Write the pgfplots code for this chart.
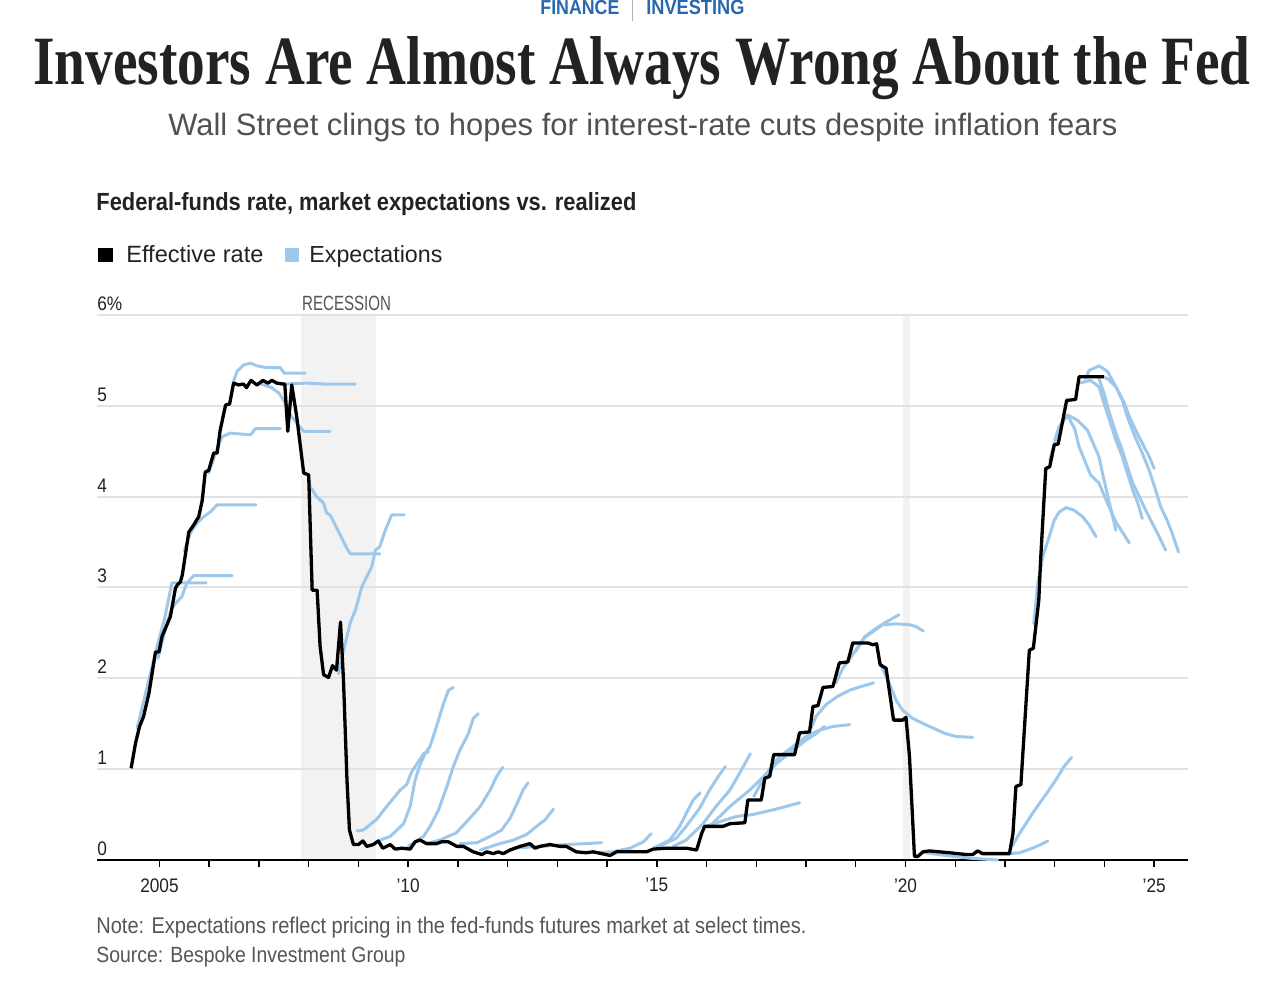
\documentclass[border=0pt]{standalone}
\usepackage{fontspec}
\setmainfont{Liberation Sans}
\newfontfamily\narrow[FakeStretch=0.88]{Liberation Sans}
\newfontfamily\titlefont{Liberation Serif}
\usepackage{graphicx}
\usepackage{pgfplots}
\pgfplotsset{compat=1.18}
\definecolor{expblue}{RGB}{158,200,235}
\definecolor{recgray}{RGB}{242,242,242}
\definecolor{gridgray}{RGB}{226,226,226}
\definecolor{finblue}{RGB}{38,104,176}
\definecolor{txt}{RGB}{34,34,34}
\definecolor{subgray}{RGB}{80,80,80}
\definecolor{notegray}{RGB}{85,85,85}

\pgfplotsset{
  exp/.style={expblue, line width=1.5pt, line join=round, line cap=round},
  eff/.style={black, line width=1.65pt, line join=round},
}

\begin{document}
\begin{tikzpicture}
\begin{axis}[
  set layers,
  at={(48.5pt,65.5pt)}, anchor=south west,
  scale only axis, width=545.5pt, height=272.5pt,
  xmin=2003.744, xmax=2025.68, ymin=0, ymax=6,
  axis x line*=bottom, axis y line*=left,
  y axis line style={draw=none},
  x axis line style={black, line width=1pt, -},
  xtick={2005,2006,...,2025}, xticklabels={},
  xtick align=outside, major tick length=3.5pt,
  xtick style={black, line width=0.7pt},
  ytick=\empty,
  clip=false,
]
% recessions
\addplot[fill=recgray, draw=none, on layer=axis background] coordinates {(2007.843,6) (2009.35,6)} \closedcycle;
\addplot[fill=recgray, draw=none, on layer=axis background] coordinates {(2019.956,6) (2020.097,6)} \closedcycle;
\begin{pgfonlayer}{axis grid}
\draw[gridgray, line width=1pt] (axis cs:2003.744,1) -- (axis cs:2025.68,1);
\draw[gridgray, line width=1pt] (axis cs:2003.744,2) -- (axis cs:2025.68,2);
\draw[gridgray, line width=1pt] (axis cs:2003.744,3) -- (axis cs:2025.68,3);
\draw[gridgray, line width=1pt] (axis cs:2003.744,4) -- (axis cs:2025.68,4);
\draw[gridgray, line width=1pt] (axis cs:2003.744,5) -- (axis cs:2025.68,5);
\draw[gridgray, line width=1pt] (axis cs:2003.744,6) -- (axis cs:2025.68,6);
\end{pgfonlayer}

% expectations
\addplot[exp] coordinates {(2004.55,1.45) (2004.75,1.9) (2004.95,2.35) (2005.1,2.65) (2005.25,3.05) (2005.94,3.05)};
\addplot[exp] coordinates {(2004.97,2.22) (2005.1,2.5) (2005.25,2.78) (2005.35,2.84) (2005.45,2.90) (2005.55,3.05) (2005.69,3.13) (2006.46,3.13)};
\addplot[exp] coordinates {(2005.50,3.40) (2005.62,3.60) (2005.76,3.71) (2005.89,3.78) (2006.02,3.83) (2006.16,3.91) (2006.94,3.91)};
\addplot[exp] coordinates {(2005.99,4.26) (2006.16,4.53) (2006.26,4.66) (2006.43,4.70) (2006.83,4.68) (2006.93,4.75) (2007.43,4.75)};
\addplot[exp] coordinates {(2006.49,5.27) (2006.56,5.38) (2006.69,5.45) (2006.83,5.47) (2006.96,5.44) (2007.16,5.42) (2007.43,5.42) (2007.51,5.36) (2007.93,5.36)};
\addplot[exp] coordinates {(2007.00,5.25) (2007.10,5.23) (2007.26,5.20) (2007.40,5.14) (2007.50,5.06) (2007.63,4.90) (2007.76,4.81) (2007.90,4.72) (2008.43,4.72)};
\addplot[exp] coordinates {(2007.50,5.24) (2007.97,5.25) (2008.30,5.24) (2008.94,5.24)};
\addplot[exp] coordinates {(2008.00,4.22) (2008.03,4.11) (2008.16,4.00) (2008.30,3.93) (2008.36,3.82) (2008.43,3.80) (2008.57,3.65) (2008.67,3.54) (2008.77,3.43) (2008.84,3.37) (2009.43,3.37)};
\addplot[exp] coordinates {(2008.60,2.05) (2008.72,2.35) (2008.84,2.62) (2008.94,2.75) (2009.07,3.01) (2009.17,3.12) (2009.27,3.23) (2009.34,3.41) (2009.43,3.45) (2009.54,3.63) (2009.67,3.80) (2009.92,3.80)};
\addplot[exp] coordinates {(2008.97,0.32) (2009.10,0.33) (2009.37,0.45) (2009.57,0.59) (2009.84,0.77) (2009.97,0.83) (2010.07,0.97) (2010.31,1.17) (2010.41,1.19)};
\addplot[exp] coordinates {(2009.44,0.22) (2009.64,0.26) (2009.91,0.40) (2010.04,0.59) (2010.14,0.88) (2010.24,1.05) (2010.34,1.17) (2010.44,1.25) (2010.57,1.47) (2010.71,1.72) (2010.81,1.87) (2010.91,1.90)};
\addplot[exp] coordinates {(2010.00,0.15) (2010.31,0.26) (2010.44,0.37) (2010.61,0.55) (2010.78,0.81) (2010.91,1.03) (2011.04,1.21) (2011.21,1.39) (2011.31,1.56) (2011.41,1.61)};
\addplot[exp] coordinates {(2010.37,0.18) (2010.64,0.22) (2010.97,0.30) (2011.24,0.46) (2011.45,0.59) (2011.65,0.77) (2011.78,0.92) (2011.90,1.02)};
\addplot[exp] coordinates {(2011.04,0.18) (2011.38,0.19) (2011.65,0.26) (2011.88,0.33) (2012.05,0.46) (2012.18,0.61) (2012.31,0.77) (2012.41,0.85)};
\addplot[exp] coordinates {(2011.45,0.11) (2011.78,0.17) (2012.12,0.22) (2012.38,0.28) (2012.58,0.37) (2012.75,0.44) (2012.92,0.56)};
\addplot[exp] coordinates {(2012.12,0.13) (2012.65,0.15) (2013.18,0.17) (2013.89,0.19)};
\addplot[exp] coordinates {(2013.72,0.08) (2014.10,0.09) (2014.46,0.13) (2014.73,0.20) (2014.89,0.29)};
\addplot[exp] coordinates {(2014.93,0.13) (2015.26,0.22) (2015.46,0.37) (2015.59,0.51) (2015.73,0.66) (2015.87,0.74)};
\addplot[exp] coordinates {(2015.06,0.15) (2015.39,0.24) (2015.59,0.37) (2015.86,0.57) (2016.06,0.77) (2016.26,0.94) (2016.38,1.03)};
\addplot[exp] coordinates {(2015.33,0.15) (2015.59,0.22) (2015.93,0.40) (2016.19,0.59) (2016.47,0.77) (2016.70,0.99) (2016.88,1.17)};
\addplot[exp] coordinates {(2015.99,0.37) (2016.26,0.42) (2016.60,0.48) (2016.93,0.50) (2017.47,0.57) (2017.87,0.63)};
\addplot[exp] coordinates {(2016.06,0.37) (2016.47,0.59) (2016.87,0.77) (2017.20,0.95) (2017.47,1.14) (2017.74,1.25) (2018.00,1.36) (2018.27,1.43) (2018.54,1.47) (2018.88,1.49)};
\addplot[exp] coordinates {(2016.95,0.70) (2017.13,0.88) (2017.40,1.06) (2017.74,1.21) (2018.00,1.32) (2018.20,1.39) (2018.37,1.47)};
\addplot[exp] coordinates {(2018.10,1.45) (2018.20,1.58) (2018.40,1.71) (2018.63,1.80) (2018.88,1.87) (2019.11,1.91) (2019.36,1.95)};
\addplot[exp] coordinates {(2018.60,1.95) (2018.74,2.11) (2018.94,2.26) (2019.18,2.46) (2019.41,2.55) (2019.61,2.62) (2019.87,2.70)};
\addplot[exp] coordinates {(2019.00,2.30) (2019.18,2.45) (2019.54,2.59) (2019.81,2.60) (2020.08,2.59) (2020.21,2.57) (2020.36,2.52)};
\addplot[exp] coordinates {(2019.50,2.15) (2019.68,1.94) (2019.81,1.76) (2019.94,1.65) (2020.14,1.56) (2020.48,1.47) (2020.81,1.39) (2021.02,1.36) (2021.35,1.35)};
\addplot[exp] coordinates {(2020.40,0.08) (2020.80,0.05) (2021.30,0.02) (2021.85,0.00)};
\addplot[exp] coordinates {(2022.09,0.07) (2022.30,0.08) (2022.55,0.13) (2022.72,0.17) (2022.86,0.21)};
\addplot[exp] coordinates {(2022.12,0.13) (2022.29,0.29) (2022.42,0.40) (2022.55,0.51) (2022.69,0.62) (2022.86,0.75) (2023.02,0.88) (2023.19,1.03) (2023.34,1.13)};
\addplot[exp] coordinates {(2022.58,2.60) (2022.66,3.05) (2022.76,3.34) (2022.89,3.56) (2022.99,3.74) (2023.09,3.83) (2023.23,3.88) (2023.39,3.85) (2023.56,3.78) (2023.69,3.69) (2023.83,3.56)};
\addplot[exp] coordinates {(2022.90,4.40) (2023.09,4.77) (2023.26,4.90) (2023.46,4.84) (2023.66,4.73) (2023.89,4.44) (2023.96,4.26) (2024.10,3.93) (2024.23,3.63)};
\addplot[exp] coordinates {(2023.00,4.62) (2023.09,4.77) (2023.26,4.89) (2023.40,4.75) (2023.49,4.55) (2023.72,4.24) (2023.89,4.15) (2024.06,3.93) (2024.23,3.72) (2024.36,3.61) (2024.50,3.49)};
\addplot[exp] coordinates {(2023.49,5.25) (2023.72,5.28) (2023.89,5.21) (2023.99,5.03) (2024.12,4.81) (2024.23,4.62) (2024.36,4.44) (2024.46,4.26) (2024.57,4.07) (2024.67,3.93) (2024.76,3.76)};
\addplot[exp] coordinates {(2023.62,5.30) (2023.69,5.39) (2023.89,5.44) (2024.06,5.38) (2024.16,5.28) (2024.30,5.14) (2024.40,5.03) (2024.50,4.88) (2024.63,4.73) (2024.76,4.59) (2024.90,4.44) (2025.00,4.31)};
\addplot[exp] coordinates {(2023.99,5.32) (2024.08,5.29) (2024.23,5.21) (2024.36,5.06) (2024.46,4.88) (2024.60,4.68) (2024.76,4.48) (2024.90,4.29) (2025.03,4.07) (2025.13,3.89) (2025.26,3.74) (2025.36,3.60) (2025.49,3.39)};
\addplot[exp] coordinates {(2023.89,5.30) (2023.99,5.14) (2024.10,4.92) (2024.23,4.70) (2024.36,4.51) (2024.46,4.33) (2024.57,4.15) (2024.70,4.00) (2024.83,3.85) (2024.96,3.71) (2025.10,3.56) (2025.23,3.41)};

% effective rate
\addplot[eff] coordinates {
(2004.43,1.01) (2004.52,1.29) (2004.60,1.47) (2004.68,1.58) (2004.79,1.84) (2004.92,2.29) (2004.99,2.29)
(2005.05,2.46) (2005.15,2.59) (2005.22,2.68) (2005.32,2.99) (2005.36,3.03) (2005.42,3.06) (2005.46,3.14)
(2005.59,3.61) (2005.69,3.69) (2005.79,3.78) (2005.86,3.96) (2005.92,4.27) (2005.99,4.29) (2006.09,4.48)
(2006.16,4.48) (2006.22,4.73) (2006.33,5.01) (2006.41,5.02) (2006.49,5.25) (2006.59,5.23) (2006.69,5.24)
(2006.75,5.20) (2006.84,5.28) (2006.96,5.23) (2007.08,5.28) (2007.18,5.25) (2007.26,5.28) (2007.36,5.25)
(2007.48,5.24) (2007.52,5.24) (2007.58,4.72) (2007.66,5.23) (2007.76,4.88) (2007.90,4.26) (2008.00,4.24)
(2008.07,2.97) (2008.17,2.97) (2008.23,2.35) (2008.30,2.04) (2008.40,2.01) (2008.48,2.14) (2008.56,2.09)
(2008.64,2.62) (2008.70,1.98) (2008.77,0.88) (2008.82,0.33) (2008.90,0.17) (2009.00,0.17) (2009.09,0.21)
(2009.17,0.15) (2009.30,0.17) (2009.40,0.21) (2009.49,0.13) (2009.64,0.17) (2009.74,0.12) (2009.87,0.13)
(2010.04,0.12) (2010.14,0.20) (2010.24,0.22) (2010.37,0.18) (2010.57,0.18) (2010.67,0.20) (2010.81,0.20)
(2010.98,0.15) (2011.11,0.15) (2011.31,0.09) (2011.48,0.06) (2011.58,0.09) (2011.71,0.07) (2011.81,0.09)
(2011.91,0.07) (2012.05,0.11) (2012.25,0.15) (2012.45,0.18) (2012.55,0.13) (2012.65,0.15) (2012.85,0.17)
(2013.05,0.15) (2013.18,0.15) (2013.38,0.09) (2013.58,0.08) (2013.72,0.09) (2013.89,0.07) (2014.06,0.05)
(2014.19,0.09) (2014.39,0.09) (2014.79,0.09) (2014.93,0.12) (2015.19,0.13) (2015.59,0.13) (2015.80,0.11)
(2015.90,0.29) (2015.96,0.37) (2016.33,0.37) (2016.47,0.40) (2016.77,0.41) (2016.83,0.66) (2017.10,0.66)
(2017.17,0.90) (2017.27,0.92) (2017.35,1.16) (2017.77,1.16) (2017.87,1.40) (2018.07,1.41) (2018.14,1.69)
(2018.24,1.70) (2018.34,1.90) (2018.54,1.91) (2018.67,2.17) (2018.84,2.18) (2018.94,2.39) (2019.24,2.39)
(2019.34,2.37) (2019.42,2.38) (2019.49,2.15) (2019.61,2.11) (2019.76,1.54) (2019.94,1.54) (2020.01,1.57)
(2020.08,1.14) (2020.18,0.04) (2020.25,0.04) (2020.35,0.09) (2020.48,0.10) (2020.88,0.08) (2021.22,0.06)
(2021.35,0.06) (2021.45,0.10) (2021.55,0.07) (2022.09,0.07) (2022.16,0.29) (2022.22,0.81) (2022.32,0.83)
(2022.49,2.31) (2022.57,2.33) (2022.68,2.86) (2022.72,3.34) (2022.82,4.31) (2022.90,4.33) (2022.99,4.57)
(2023.07,4.58) (2023.24,5.06) (2023.42,5.07) (2023.49,5.32) (2023.99,5.32)};

% axis texts
\node[anchor=base west, inner sep=0pt, text=notegray] at (axis cs:2007.86,6) [yshift=2pt] {\resizebox{44.5pt}{7.2pt}{\narrow RECESSION}};
\node[anchor=south west, inner sep=0pt, text=txt, font=\narrow\fontsize{9.8}{11}\selectfont] at (axis cs:2003.744,6) [yshift=2pt] {6\%};
\node[anchor=south west, inner sep=0pt, text=txt, font=\narrow\fontsize{9.8}{11}\selectfont] at (axis cs:2003.744,5) [yshift=2pt] {5};
\node[anchor=south west, inner sep=0pt, text=txt, font=\narrow\fontsize{9.8}{11}\selectfont] at (axis cs:2003.744,4) [yshift=2pt] {4};
\node[anchor=south west, inner sep=0pt, text=txt, font=\narrow\fontsize{9.8}{11}\selectfont] at (axis cs:2003.744,3) [yshift=2pt] {3};
\node[anchor=south west, inner sep=0pt, text=txt, font=\narrow\fontsize{9.8}{11}\selectfont] at (axis cs:2003.744,2) [yshift=2pt] {2};
\node[anchor=south west, inner sep=0pt, text=txt, font=\narrow\fontsize{9.8}{11}\selectfont] at (axis cs:2003.744,1) [yshift=2pt] {1};
\node[anchor=south west, inner sep=0pt, text=txt, font=\narrow\fontsize{9.8}{11}\selectfont] at (axis cs:2003.744,0) [yshift=2pt] {0};
\node[anchor=north, inner sep=0pt, text=txt, font=\narrow\fontsize{9.8}{11}\selectfont] at (axis cs:2005,0) [yshift=-9pt] {2005};
\node[anchor=north, inner sep=0pt, text=txt, font=\narrow\fontsize{9.8}{11}\selectfont] at (axis cs:2010,0) [yshift=-9pt] {’10};
\node[anchor=north, inner sep=0pt, text=txt, font=\narrow\fontsize{9.8}{11}\selectfont] at (axis cs:2015,0) [yshift=-9pt] {’15};
\node[anchor=north, inner sep=0pt, text=txt, font=\narrow\fontsize{9.8}{11}\selectfont] at (axis cs:2020,0) [yshift=-9pt] {’20};
\node[anchor=north, inner sep=0pt, text=txt, font=\narrow\fontsize{9.8}{11}\selectfont] at (axis cs:2025,0) [yshift=-9pt] {’25};
\end{axis}

\begin{scope}[x=0.5pt, y=-0.5pt, yshift=495.5pt]
\node[anchor=base west, inner sep=0pt, text=finblue] at (540,14.5) {\resizebox{39.5pt}{!}{\narrow\bfseries FINANCE}};
\draw[gray!60, line width=0.5pt] (632,0) -- (632,21);
\node[anchor=base west, inner sep=0pt, text=finblue] at (646,14.5) {\resizebox{49pt}{!}{\narrow\bfseries INVESTING}};
\node[anchor=base west, inner sep=0pt, text=txt] at (33,85) {\resizebox{608.5pt}{24pt}{\titlefont\bfseries Investors Are Almost Always Wrong About the Fed}};
\node[anchor=base west, inner sep=0pt, text=subgray] at (168,136) {\resizebox{474.5pt}{!}{Wall Street clings to hopes for interest-rate cuts despite inflation fears}};
\node[anchor=base west, inner sep=0pt, text=txt] at (96,211) {\resizebox{270pt}{!}{\narrow\bfseries Federal-funds rate, market expectations vs. realized}};
\fill[black] (98,248) rectangle (113,262);
\node[anchor=base west, inner sep=0pt, text=txt] at (126,263) {\resizebox{68.5pt}{!}{Effective rate}};
\fill[expblue] (285,248) rectangle (299,262);
\node[anchor=base west, inner sep=0pt, text=txt] at (309,263) {\resizebox{66.5pt}{!}{Expectations}};
\node[anchor=base west, inner sep=0pt, text=notegray] at (96,934) {\resizebox{355pt}{!}{\narrow Note: Expectations reflect pricing in the fed-funds futures market at select times.}};
\node[anchor=base west, inner sep=0pt, text=notegray] at (96,963) {\resizebox{154.5pt}{!}{\narrow Source: Bespoke Investment Group}};
\end{scope}
\pgfresetboundingbox
\useasboundingbox (0,0) rectangle (640pt,495.5pt);
\end{tikzpicture}
\end{document}
